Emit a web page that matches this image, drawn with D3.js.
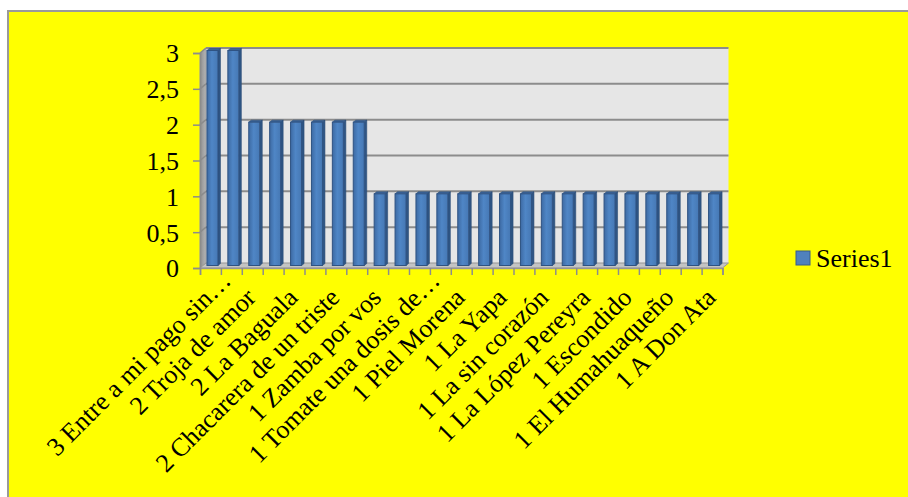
<!DOCTYPE html>
<html>
<head>
<meta charset="utf-8">
<script src="https://cdn.jsdelivr.net/npm/d3@7"></script>
<style>
  html, body { margin: 0; padding: 0; background: #ffffff; }
  svg { display: block; }
  text { font-family: "Liberation Serif", "Times New Roman", serif; fill: #000; }
</style>
</head>
<body>
<svg id="chart" width="908" height="497"></svg>
<script>
// Song counts, one column per song (labels are shown for every other column)
const values = [3, 3, 2, 2, 2, 2, 2, 2, 1, 1, 1, 1, 1, 1, 1, 1, 1, 1, 1, 1, 1, 1, 1, 1, 1];
const tickLabels = [
  "3 Entre a mi pago sin…",
  "2 Troja de amor",
  "2 La Baguala",
  "2 Chacarera de un triste",
  "1 Zamba por vos",
  "1 Tomate una dosis de…",
  "1 Piel Morena",
  "1 La Yapa",
  "1 La sin corazón",
  "1 La López Pereyra",
  "1 Escondido",
  "1 El Humahuaqueño",
  "1 A Don Ata"
];
const labelStep = 2;
const yTicks = [0, 0.5, 1, 1.5, 2, 2.5, 3];
const seriesName = "Series1";

const svg = d3.select("#chart");
const W = 908, H = 497;

// chart area
svg.append("rect")
  .attr("x", 8).attr("y", 11)
  .attr("width", W + 10).attr("height", H + 10)
  .attr("fill", "#ffff00")
  .attr("stroke", "#9a9a9a").attr("stroke-width", 2);

// 3D box geometry
const depth = { dx: 6, dy: -5 };
const x = d3.scaleBand().domain(d3.range(values.length)).range([200, 722.5]).padding(0);
const xEdge = d3.scaleLinear().domain([0, values.length]).range([200, 722.5]);
const y = d3.scaleLinear().domain([0, 3]).range([268, 53]);
const [x0, x1] = x.range();
const fmt = d3.formatLocale({ decimal: ",", thousands: ".", grouping: [3], currency: ["", ""] }).format("~g");

const defs = svg.append("defs");
const sideGrad = defs.append("linearGradient").attr("id", "sideWall").attr("x1", 0).attr("x2", 1).attr("y1", 0).attr("y2", 0);
sideGrad.append("stop").attr("offset", 0).attr("stop-color", "#8f8f8f");
sideGrad.append("stop").attr("offset", 1).attr("stop-color", "#b5b5b5");
const barGrad = defs.append("linearGradient").attr("id", "barFront").attr("x1", 0).attr("x2", 1).attr("y1", 0).attr("y2", 0);
barGrad.append("stop").attr("offset", 0).attr("stop-color", "#3d6aa3");
barGrad.append("stop").attr("offset", 0.45).attr("stop-color", "#4f86c6");
barGrad.append("stop").attr("offset", 1).attr("stop-color", "#4678b4");

// back wall
svg.append("rect")
  .attr("x", x0 + depth.dx).attr("y", y(3) + depth.dy)
  .attr("width", x1 - x0).attr("height", y(0) - y(3))
  .attr("fill", "#e6e6e6");

// left side wall
svg.append("polygon")
  .attr("points", [[x0, y(0)], [x0, y(3)], [x0 + depth.dx, y(3) + depth.dy], [x0 + depth.dx, y(0) + depth.dy]].join(" "))
  .attr("fill", "url(#sideWall)").attr("stroke", "#a0a0a0").attr("stroke-width", 0.8);

// floor
svg.append("polygon")
  .attr("points", [[x0, y(0)], [x1, y(0)], [x1 + depth.dx, y(0) + depth.dy], [x0 + depth.dx, y(0) + depth.dy]].join(" "))
  .attr("fill", "#c4c4c4").attr("stroke", "#969696").attr("stroke-width", 1);

// gridlines on back and side walls
const grid = svg.append("g");
yTicks.filter(v => v > 0).forEach(v => {
  grid.append("line")
    .attr("x1", x0 + depth.dx).attr("x2", x1 + depth.dx)
    .attr("y1", y(v) + depth.dy).attr("y2", y(v) + depth.dy)
    .attr("stroke", "#8c8c8c").attr("stroke-width", 2);
  grid.append("line")
    .attr("x1", x0).attr("x2", x0 + depth.dx)
    .attr("y1", y(v)).attr("y2", y(v) + depth.dy)
    .attr("stroke", "#8c8c8c").attr("stroke-width", 1.5);
});

// y axis
const yAxis = svg.append("g")
  .attr("transform", `translate(${x0},0)`)
  .call(d3.axisLeft(y).tickValues(yTicks).tickFormat(fmt).tickSize(7).tickPadding(14));
yAxis.select(".domain").attr("stroke", "#8c8c8c").attr("stroke-width", 1.5);
yAxis.selectAll(".tick line").attr("stroke", "#8c8c8c").attr("stroke-width", 1.5);
yAxis.selectAll(".tick text")
  .style("font-family", '"Liberation Serif", "Times New Roman", serif')
  .style("font-size", "26px").attr("fill", "#000").attr("dy", "0.34em");

// x axis ticks between columns
const xAxis = svg.append("g")
  .attr("transform", `translate(0,${y(0)})`)
  .call(d3.axisBottom(xEdge).tickValues(d3.range(values.length + 1)).tickFormat("").tickSize(7));
xAxis.select(".domain").attr("stroke", "#969696").attr("stroke-width", 1.5);
xAxis.selectAll(".tick line").attr("stroke", "#8c8c8c").attr("stroke-width", 1.5);

// columns, standing at mid-depth
const bw = 11, sideW = 2.5, sideH = 2;
const mid = { dx: depth.dx / 2, dy: depth.dy / 2 };
const bars = svg.append("g").selectAll("g").data(values).join("g")
  .attr("transform", (d, i) => `translate(${x(i) + x.bandwidth() / 2 + mid.dx - bw / 2 - 1},${mid.dy})`);
bars.append("polygon")
  .attr("points", d => [[bw, y(d)], [bw + sideW, y(d) - sideH], [bw + sideW, y(0) - sideH], [bw, y(0)]].join(" "))
  .attr("fill", "#2f5584").attr("stroke", "#2a4b75").attr("stroke-width", 0.6);
bars.append("polygon")
  .attr("points", d => [[0, y(d)], [sideW, y(d) - sideH], [bw + sideW, y(d) - sideH], [bw, y(d)]].join(" "))
  .attr("fill", "#3b6498").attr("stroke", "#2a4b75").attr("stroke-width", 0.6);
bars.append("rect")
  .attr("x", 0).attr("y", d => y(d))
  .attr("width", bw).attr("height", d => y(0) - y(d))
  .attr("fill", "url(#barFront)").attr("stroke", "#2f5383").attr("stroke-width", 1);

// category labels, every other column
svg.append("g").selectAll("text").data(tickLabels).join("text")
  .attr("transform", (d, k) => {
    const i = k * labelStep;
    return `translate(${x(i) + x.bandwidth() / 2 + 5},${y(0) + 31}) rotate(-45)`;
  })
  .attr("text-anchor", "end")
  .attr("dx", d => d.endsWith("…") ? 24 : 0)
  .style("font-size", "26px")
  .text(d => d);

// legend
const legend = svg.append("g").attr("transform", "translate(796,251)");
legend.append("rect").attr("width", 14).attr("height", 14)
  .attr("fill", "#4f81bd").attr("stroke", "#385d8a").attr("stroke-width", 1);
legend.append("text").attr("x", 20).attr("y", 16).style("font-size", "26px").text(seriesName);
</script>
</body>
</html>
